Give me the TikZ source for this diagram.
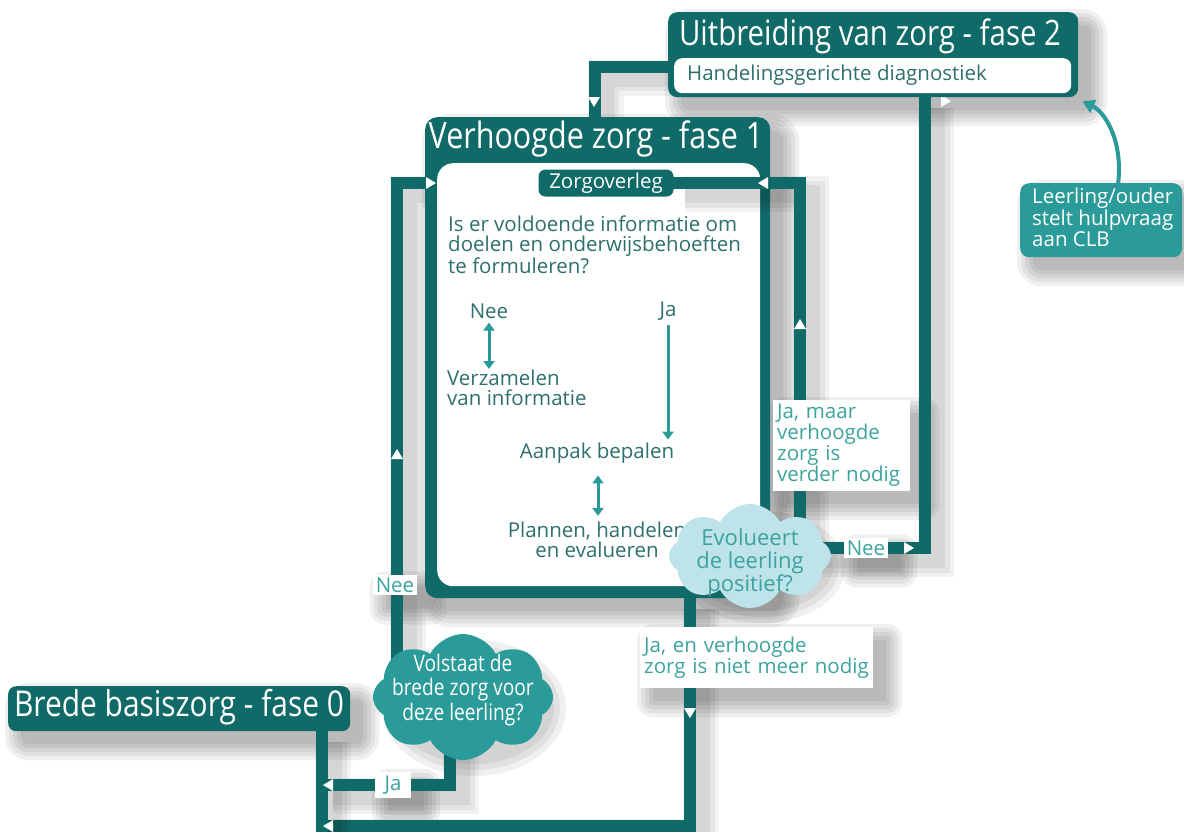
\documentclass[tikz,border=0pt]{standalone}
\usepackage{fontspec}
\setmainfont{Open Sans}
\newfontfamily\condf[FakeStretch=0.84]{Open Sans}
\usetikzlibrary{shapes.symbols,shapes.geometric,arrows.meta,calc}
\definecolor{dk}{HTML}{0F6A68}
\definecolor{md}{HTML}{2A9B98}
\definecolor{tx}{HTML}{2D706D}
\definecolor{lt}{HTML}{3DA39D}
\definecolor{lb}{HTML}{BEE3EA}
\pgfdeclarelayer{shadow}
\pgfdeclarelayer{bg}
\pgfdeclarelayer{fg}
\pgfsetlayers{shadow,bg,main,fg}
\newcommand\ftitle{\condf\fontsize{35}{38}\selectfont}
\newcommand\fbody{\fontsize{20.5}{20}\selectfont}
\newcommand\flab{\fontsize{20.5}{21}\selectfont}
% white triangle markers
\newcommand\trR[1]{\fill[white,shift={(#1)}] (-4,-6) -- (6,0) -- (-4,6) -- cycle;}
\newcommand\trL[1]{\fill[white,shift={(#1)}] (4,-6) -- (-6,0) -- (4,6) -- cycle;}
\newcommand\trU[1]{\fill[white,shift={(#1)}] (-6,4) -- (0,-6) -- (6,4) -- cycle;}
\newcommand\trD[1]{\fill[white,shift={(#1)}] (-6,-4) -- (0,6) -- (6,-4) -- cycle;}
% soft shadow of a node
\newcommand\nshadow[2]{%
  \begin{pgfonlayer}{shadow}
  \foreach \e in {0,4,8,12,16}{
    \fill[black,fill opacity=0.06,rounded corners=#2+\e]
      ($(#1.north west)+(13-\e,13-\e)$) rectangle ($(#1.south east)+(13+\e,13+\e)$);}
  \end{pgfonlayer}}
\tikzset{
  flow/.style={draw=dk,line width=12pt,line cap=rect,line join=miter,
    preaction={draw=black,draw opacity=.05,line width=36pt,transform canvas={shift={(11pt,-11pt)}}},
    preaction={draw=black,draw opacity=.055,line width=27pt,transform canvas={shift={(11pt,-11pt)}}},
    preaction={draw=black,draw opacity=.06,line width=18pt,transform canvas={shift={(11pt,-11pt)}}}},
  dkbox/.style={fill=dk,rounded corners=9pt,inner sep=0pt},
  wbox/.style={fill=white,inner sep=0pt},
  lab/.style={fill=white,text=lt,font=\flab,inner sep=4pt,align=left},
  intext/.style={text=tx,font=\fbody,inner sep=0pt},
  inarrow/.style={draw=md,line width=3pt},
  cloudq/.style={cloud,cloud puffs=8,cloud puff arc=125,inner sep=0pt},
}
\begin{document}
\begin{tikzpicture}[x=1pt,y=-1pt]
\useasboundingbox (0,0) rectangle (1184,831);
\begin{pgfonlayer}{shadow}
\fill[white] (0,0) rectangle (1184,831);
\end{pgfonlayer}

% ---------- phase 2 ----------
\node[dkbox,minimum width=410pt,minimum height=85pt,anchor=north west] (f2) at (668,12) {};
\nshadow{f2}{9pt}
\node[font=\ftitle,text=white,inner sep=0pt] (f2t) at (870,36) {Uitbreiding van zorg - fase 2};
\node[wbox,rounded corners=8pt,minimum width=397pt,minimum height=35pt,anchor=north west] (f2i) at (674,58) {};
\node[intext,anchor=west] (f2it) at (687,75) {Handelingsgerichte diagnostiek};

% ---------- phase 1 ----------
\node[dkbox,rounded corners=12pt,minimum width=345pt,minimum height=481pt,anchor=north west] (f1) at (425,117) {};
\nshadow{f1}{12pt}
\node[font=\condf\fontsize{36.3}{40}\selectfont,text=white,inner sep=0pt] (f1t) at (596,139) {Verhoogde zorg - fase 1};
\node[wbox,rounded corners=16pt,minimum width=323pt,minimum height=423pt,anchor=north west] (f1i) at (437,163) {};

% ---------- phase 0 ----------
\node[dkbox,rounded corners=8pt,minimum width=342pt,minimum height=45pt,anchor=north west] (f0) at (8,686) {};
\nshadow{f0}{8pt}
\node[font=\condf\fontsize{35.6}{38}\selectfont,text=white,inner sep=0pt] (f0t) at (179,707) {Brede basiszorg - fase 0};

% ---------- request box ----------
\node[fill=md,rounded corners=9pt,minimum width=162pt,minimum height=74pt,anchor=north west,inner sep=0pt] (lo) at (1020,183) {};
\nshadow{lo}{9pt}
\node[text=white,font=\fontsize{20.5}{18}\selectfont,align=left,anchor=north west,inner sep=0pt] (lot) at (1032,188) {Leerling/ouder\\stelt hulpvraag\\aan CLB};

% ---------- foreground nodes ----------
\begin{pgfonlayer}{fg}
\node[fill=dk,rounded corners=7pt,minimum width=135pt,minimum height=27pt,inner sep=0pt,text=white,font=\fbody] (zo) at (606,183) {Zorgoverleg};
\node[intext,align=left,anchor=north west] (q) at (448,216) {Is er voldoende informatie om\\doelen en onderwijsbehoeften\\te formuleren?};
\node[intext] (nee1) at (489,311) {Nee};
\node[intext] (ja1) at (668,311) {Ja};
\node[intext,align=left,anchor=north west] (vz) at (447,370) {Verzamelen\\van informatie};
\node[intext] (ab) at (597,453) {Aanpak bepalen};
\node[intext,align=center] (ph) at (597,540) {Plannen, handelen\\en evalueren};

\node[lab,minimum width=137pt,minimum height=88pt,anchor=north west,align=left,text width=129pt] (l1) at (773,400) {Ja, maar\\verhoogde\\zorg is\\verder nodig};
\node[lab,inner sep=3pt] (l2) at (866,548) {Nee};
\node[lab,inner sep=3pt] (l3) at (395,585) {Nee};
\node[lab,text width=225pt,minimum height=61pt,anchor=north west] (l4) at (640,627) {Ja, en verhoogde\\zorg is niet meer nodig};
\node[lab,inner sep=4pt,minimum width=36pt] (l5) at (393,785) {Ja};

\node[cloudq,fill=lb,minimum width=162pt,minimum height=104pt] (q1) at (750,556) {};
\node[text=lt,font=\fontsize{22}{23}\selectfont,align=center,inner sep=0pt] (q1t) at (750,563) {Evolueert\\de leerling\\positief?};
\node[cloudq,fill=md,minimum width=180pt,minimum height=126pt] (q0) at (463,697) {};
\node[text=white,font=\condf\fontsize{22.8}{24.5}\selectfont,align=center,inner sep=0pt] (q0t) at (463,690) {Volstaat de\\brede zorg voor\\deze leerling?};
\end{pgfonlayer}

% label / cloud shadows
\nshadow{l1}{0pt}\nshadow{l4}{0pt}\nshadow{l2}{0pt}\nshadow{l3}{0pt}\nshadow{l5}{0pt}
\begin{pgfonlayer}{shadow}
\foreach \e in {0,6,12}{
  \fill[black,fill opacity=0.06] ($(q1.center)+(11,11)$) ellipse [x radius=72+\e, y radius=44+\e];
  \fill[black,fill opacity=0.06] ($(q0.center)+(11,11)$) ellipse [x radius=80+\e, y radius=56+\e];}
\end{pgfonlayer}

% ---------- connectors ----------
\begin{pgfonlayer}{bg}
\draw[flow] ($(f2.west)+(0,12)$) -| ($(f1.north)+(-3,0)$);
\draw[flow] ($(q0.center)+(-66,0)$) |- ($(f1i.west)+(0,-191.5)$);
\draw[flow] ($(q1.center)+(0,-8)$) -| ($(f2.south west)+(257,0)$);
\draw[flow] ($(f1.south west)+(265,0)$) |- ($(f0.south west)+(314,95)$);
\draw[flow] ($(f0.south west)+(314,0)$) -- ($(f0.south west)+(314,110)$);
\draw[flow] ($(q0.center)+(-13,0)$) |- ($(f0.south west)+(314,54)$);
\trR{945,101}
\end{pgfonlayer}
% right loop drawn above the inner white area
\draw[flow] ($(q1.center)+(50,0)$) |- (zo.east);

% curved request arrow
\draw[md,line width=4pt,-{Triangle[width=14pt,length=12pt]}] ($(lo.north)+(17,0)$) .. controls ($(lo.north)+(22,-45)$) and ($(lo.north)+(2,-72)$) .. ($(f2.south east)+(4,4)$);

% inner arrows
\draw[inarrow,{Triangle[width=11pt,length=8pt]}-{Triangle[width=11pt,length=8pt]}] ($(nee1.south)+(0,4)$) -- ($(vz.north west)+(42,-1)$);
\draw[inarrow,-{Triangle[width=11pt,length=8pt]}] ($(ja1.south)+(0,5)$) -- ($(ab.north)+(71,-3)$);
\draw[inarrow,{Triangle[width=11pt,length=8pt]}-{Triangle[width=11pt,length=8pt]}] ($(ab.south)+(1,12)$) -- ($(ph.north)+(1,-6)$);

% white flow markers
\begin{pgfonlayer}{fg}
\trD{594,101}
\trR{430,183}
\trL{764,183}
\trU{800,325}
\trU{397,455}
\trR{908,548}
\trD{690,712}
\trL{329,785}
\trL{329,826}
\end{pgfonlayer}
\end{tikzpicture}
\end{document}
